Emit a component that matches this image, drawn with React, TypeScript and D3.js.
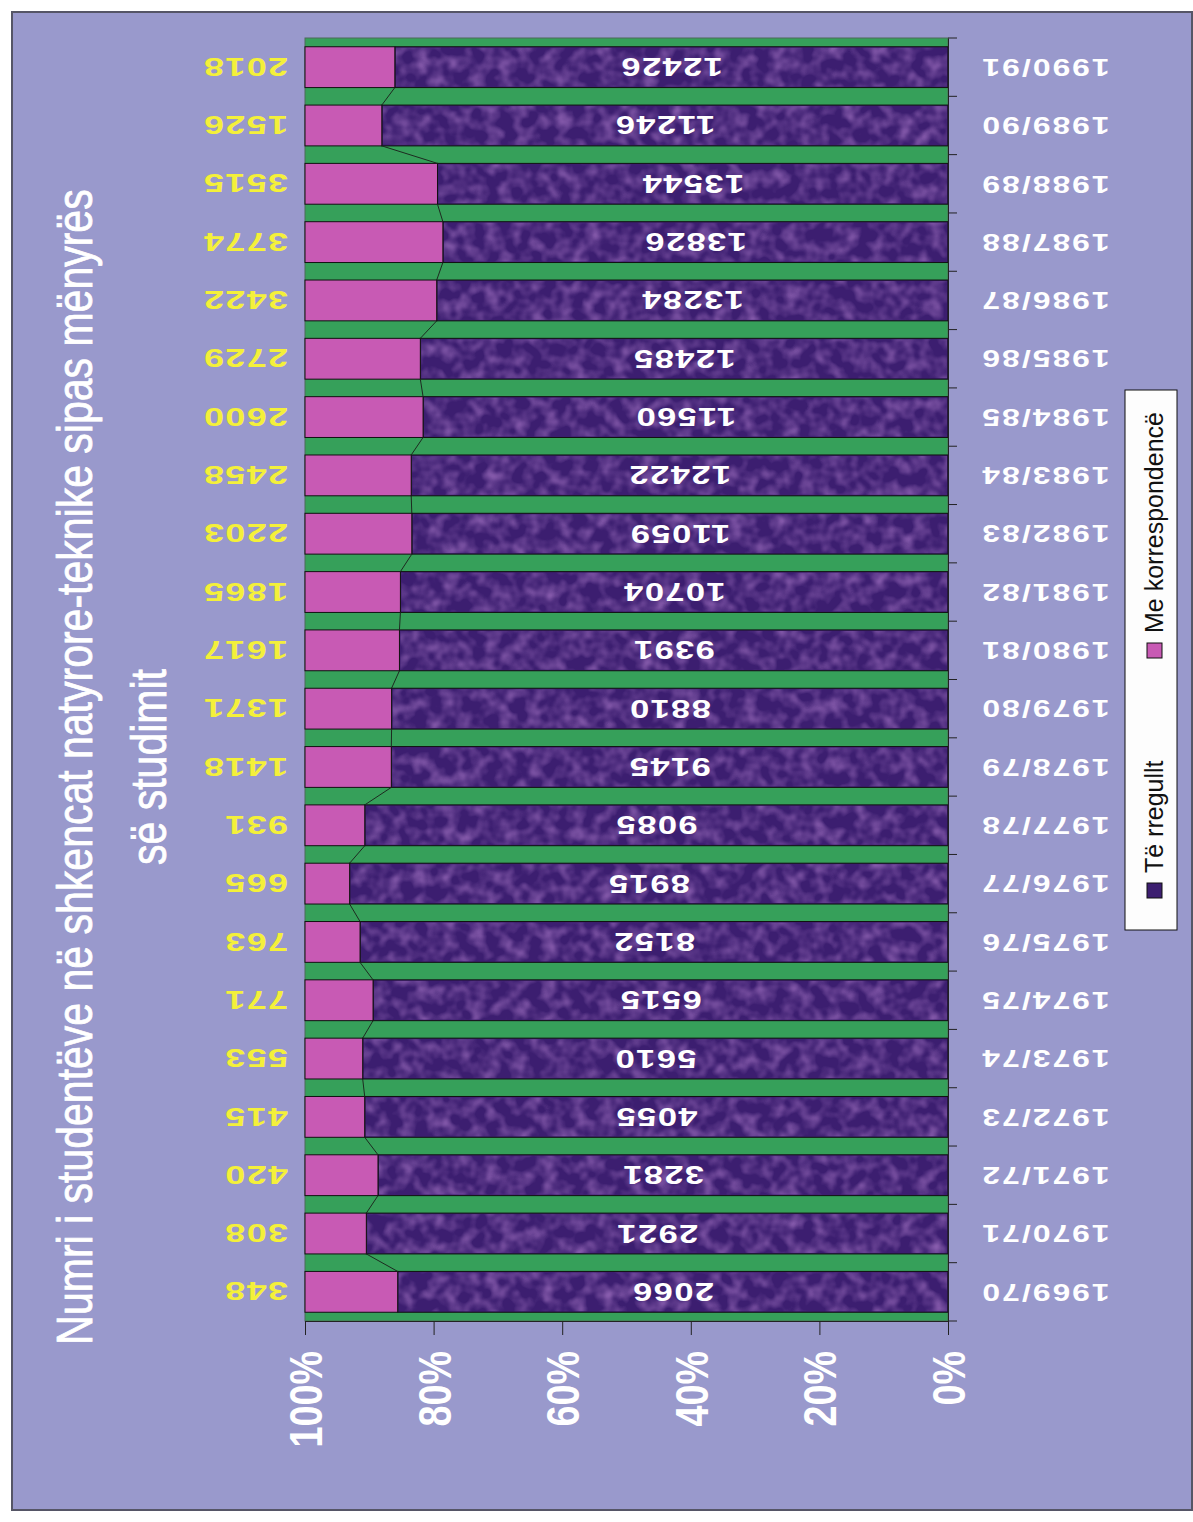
import React, { useRef, useEffect } from 'react';
import * as d3 from 'd3';

// school years, bottom to top
const categories = [
  '1969/70', '1970/71', '1971/72', '1972/73', '1973/74', '1974/75', '1975/76', '1976/77',
  '1977/78', '1978/79', '1979/80', '1980/81', '1981/82', '1982/83', '1983/84', '1984/85',
  '1985/86', '1986/87', '1987/88', '1988/89', '1989/90', '1990/91',
];
const regular = [
  2066, 2921, 3281, 4055, 5610, 6515, 8152, 8915, 9085, 9145, 8810,
  9391, 10704, 11059, 12422, 11560, 12485, 13284, 13826, 13544, 11246, 12426,
];
const correspondence = [
  348, 308, 420, 415, 553, 771, 763, 665, 931, 1418, 1371,
  1617, 1865, 2203, 2458, 2600, 2729, 3422, 3774, 3515, 1526, 2018,
];
const seriesNames = ['Të rregullt', 'Me korrespondencë'];
const percentTicks = [0, 0.2, 0.4, 0.6, 0.8, 1];
const titleLines = ['Numri i studentëve në shkencat natyrore-teknike sipas mënyrës', 'së studimit'];

const ARIAL = "'Liberation Sans', Arial, sans-serif";
const NARROW_SCALE = 0.82; // emulate Arial Narrow
const WIDE_SCALE = 1.38; // the stretched digits of the labels

const App = () => {
  const svgRef = useRef<SVGSVGElement>(null);

  useEffect(() => {
    const svg = d3.select(svgRef.current);
    svg.selectAll('*').remove();

    const plot = { left: 305, right: 948, top: 38, bottom: 1321 };

    // texture for the dark bars
    const defs = svg.append('defs');
    const f = defs.append('filter').attr('id', 'mottle').attr('x', 0).attr('y', 0).attr('width', 1).attr('height', 1);
    f.append('feTurbulence').attr('type', 'fractalNoise').attr('baseFrequency', 0.07).attr('numOctaves', 2).attr('seed', 7);
    f.append('feColorMatrix').attr('type', 'matrix')
      .attr('values', '0 0 0 0 0.42  0 0 0 0 0.2  0 0 0 0 0.6  1.3 0 0 0 -0.5');
    f.append('feComposite').attr('in2', 'SourceGraphic').attr('operator', 'in');

    // chart background
    svg.append('rect')
      .attr('x', 12).attr('y', 12).attr('width', 1180).attr('height', 1498)
      .attr('fill', '#9999cc').attr('stroke', '#555566').attr('stroke-width', 2);

    const rows = categories.map((c, i) => ({ cat: c, regular: regular[i], corr: correspondence[i] }));
    const stacked = d3.stack<any>().keys(['regular', 'corr']).offset(d3.stackOffsetExpand)(rows);

    const x = d3.scaleLinear().domain([0, 1]).range([plot.right, plot.left]);
    const y = d3.scaleBand()
      .domain([...categories].reverse())
      .range([plot.top, plot.bottom])
      .paddingInner(0.3)
      .paddingOuter(0.15);
    const bw = y.bandwidth();

    // plot area
    svg.append('rect')
      .attr('x', plot.left).attr('y', plot.top)
      .attr('width', plot.right - plot.left).attr('height', plot.bottom - plot.top)
      .attr('fill', '#36a05a').attr('stroke', '#4d6b58').attr('stroke-width', 1);

    const colors = ['#3c1e70', '#c85ab4'];
    stacked.forEach((layer, li) => {
      const g = svg.append('g');
      g.selectAll('rect.bar')
        .data(layer)
        .join('rect')
        .attr('class', 'bar')
        .attr('x', d => x(d[1]))
        .attr('y', d => y(d.data.cat)!)
        .attr('width', d => x(d[0]) - x(d[1]))
        .attr('height', bw)
        .attr('fill', colors[li])
        .attr('stroke', '#111')
        .attr('stroke-width', 1);
      if (li === 0) {
        g.selectAll('rect.tex')
          .data(layer)
          .join('rect')
          .attr('class', 'tex')
          .attr('x', d => x(d[1]) + 1)
          .attr('y', d => y(d.data.cat)! + 1)
          .attr('width', d => x(d[0]) - x(d[1]) - 2)
          .attr('height', bw - 2)
          .attr('fill', '#fff')
          .attr('filter', 'url(#mottle)');
      }
    });

    // series lines between neighbouring bars
    const boundary = stacked[0];
    const segs = boundary.slice(0, -1).map((d, i) => {
      const up = boundary[i + 1];
      return [
        [x(d[1]), y(d.data.cat)!],
        [x(up[1]), y(up.data.cat)! + bw],
      ] as [number, number][];
    });
    svg.append('g').selectAll('path')
      .data(segs)
      .join('path')
      .attr('d', d => d3.line()(d))
      .attr('stroke', '#1d2a20')
      .attr('stroke-width', 1)
      .attr('fill', 'none');

    // labels inside the dark bars
    svg.append('g').selectAll('text')
      .data(stacked[0])
      .join('text')
      .attr('transform', d => `translate(${(x(d[0]) + x(d[1])) / 2},${y(d.data.cat)! + bw / 2}) rotate(180) scale(${WIDE_SCALE},1)`)
      .attr('text-anchor', 'middle')
      .attr('dy', '0.36em')
      .attr('fill', '#fff')
      .attr('font-family', ARIAL)
      .attr('font-weight', 'bold')
      .attr('font-size', 25)
      .attr('letter-spacing', 1)
      .text(d => d.data.regular);

    // labels for correspondence, outside the plot
    svg.append('g').selectAll('text')
      .data(stacked[1])
      .join('text')
      .attr('transform', d => `translate(288,${y(d.data.cat)! + bw / 2}) rotate(180) scale(${WIDE_SCALE},1)`)
      .attr('text-anchor', 'start')
      .attr('dy', '0.36em')
      .attr('fill', '#f4f03a')
      .attr('font-family', ARIAL)
      .attr('font-weight', 'bold')
      .attr('font-size', 26)
      .attr('letter-spacing', 1)
      .text(d => d.data.corr);

    // value axis (bottom)
    const xAxis = svg.append('g')
      .attr('transform', `translate(0,${plot.bottom})`)
      .call(d3.axisBottom(x).tickValues(percentTicks).tickFormat(d3.format('.0%')).tickSize(14).tickSizeOuter(0));
    xAxis.select('.domain').attr('stroke', '#222');
    xAxis.selectAll('.tick line').attr('stroke', '#222');
    xAxis.selectAll('.tick text')
      .attr('transform', `translate(0,30) rotate(-90) scale(${NARROW_SCALE},1)`)
      .attr('x', 0).attr('y', 0)
      .attr('dy', '0.36em')
      .attr('text-anchor', 'end')
      .attr('fill', '#fff')
      .attr('font-family', ARIAL)
      .attr('font-weight', 'bold')
      .attr('font-size', 46);

    // category axis (right)
    const yAxis = svg.append('g')
      .attr('transform', `translate(${plot.right},0)`)
      .call(d3.axisRight(y).tickSize(0).tickSizeOuter(0));
    yAxis.select('.domain').attr('stroke', '#222');
    yAxis.selectAll('.tick text')
      .attr('transform', `translate(97,0) rotate(180) scale(${WIDE_SCALE},1)`)
      .attr('x', 0)
      .attr('dy', '0.36em')
      .attr('text-anchor', 'middle')
      .attr('fill', '#fff')
      .attr('font-family', ARIAL)
      .attr('font-weight', 'bold')
      .attr('font-size', 23)
      .attr('letter-spacing', 1.5);
    const step = y.step();
    const bounds = categories.map(c => y(c)! - (step - bw) / 2).concat([plot.bottom]);
    yAxis.append('g').selectAll('line')
      .data(bounds)
      .join('line')
      .attr('x1', 0).attr('x2', 9)
      .attr('y1', d => d).attr('y2', d => d)
      .attr('stroke', '#222');

    // title
    const title = svg.append('g').attr('transform', 'translate(0,767) rotate(-90)');
    title.selectAll('text')
      .data(titleLines)
      .join('text')
      .attr('transform', (d, i) => `translate(0,${i === 0 ? 92 : 166}) scale(${NARROW_SCALE},1)`)
      .attr('text-anchor', 'middle')
      .attr('fill', '#fff')
      .attr('stroke', '#fff')
      .attr('stroke-width', 0.8)
      .attr('font-family', ARIAL)
      .attr('font-size', 50)
      .text(d => d);

    // legend
    const legend = svg.append('g');
    legend.append('rect')
      .attr('x', 1125).attr('y', 390).attr('width', 52).attr('height', 540)
      .attr('fill', '#fdfdfd').attr('stroke', '#111').attr('stroke-width', 1);
    const items = [
      { name: seriesNames[0], color: colors[0], sq: 883, txt: 873 },
      { name: seriesNames[1], color: colors[1], sq: 643, txt: 633 },
    ];
    items.forEach(it => {
      legend.append('rect')
        .attr('x', 1147).attr('y', it.sq).attr('width', 15).attr('height', 15)
        .attr('fill', it.color).attr('stroke', '#111');
      legend.append('text')
        .attr('transform', `translate(1163,${it.txt}) rotate(-90)`)
        .attr('text-anchor', 'start')
        .attr('fill', '#111')
        .attr('font-family', ARIAL)
        .attr('font-size', 25)
        .text(it.name);
    });
  }, []);

  return (
    <div style={{ position: 'absolute', left: 0, top: 0 }}>
      <svg ref={svgRef} width={1193} height={1522} style={{ display: 'block', background: '#fff' }} />
    </div>
  );
};

export default App;
